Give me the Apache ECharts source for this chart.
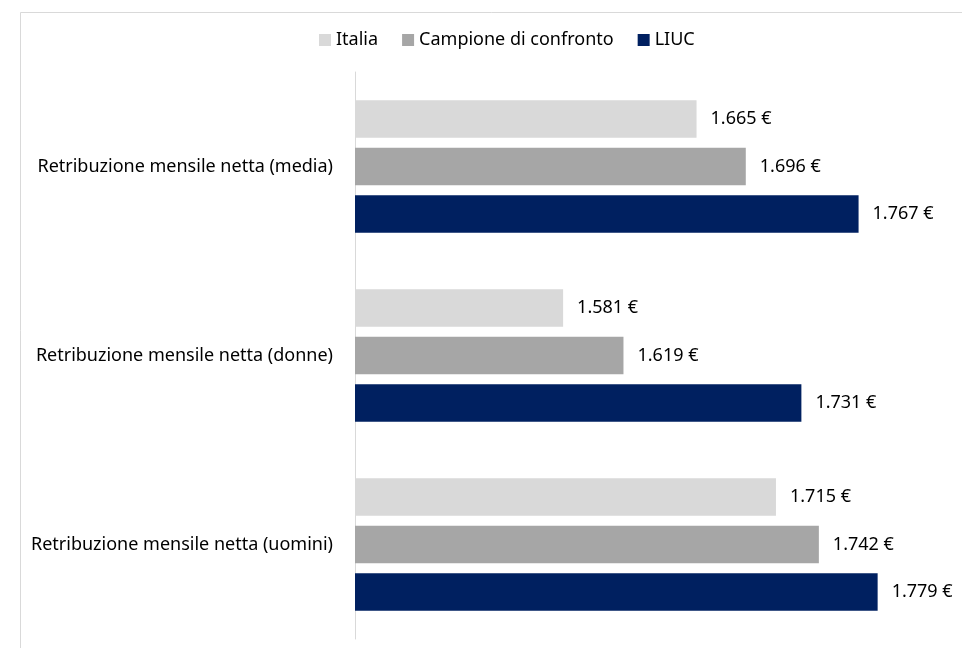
<!DOCTYPE html>
<html>
<head>
<meta charset="utf-8">
<script src="https://cdn.jsdelivr.net/npm/echarts@6/dist/echarts.min.js"></script>
<style>
html,body{margin:0;padding:0;background:#fff;}
#chart{width:962px;height:648px;}
</style>
</head>
<body>
<div id="chart"></div>
<script>
const categories = ['Retribuzione mensile netta (media)', 'Retribuzione mensile netta (donne)', 'Retribuzione mensile netta (uomini)'];
const seriesNames = ['Italia', 'Campione di confronto', 'LIUC'];
const italia = [1665, 1581, 1715];
const campione = [1696, 1619, 1742];
const liuc = [1767, 1731, 1779];
const colors = ['#D9D9D9', '#A6A6A6', '#002060'];
const seriesData = [italia, campione, liuc];

const FONT = 'Noto Sans';
const fmt = v => {
  const s = String(Math.round(v));
  return s.length > 3 ? s.slice(0, s.length - 3) + '.' + s.slice(-3) + ' €' : s + ' €';
};

const chart = echarts.init(document.getElementById('chart'), null, {renderer: 'canvas'});
chart.setOption({
  animation: false,
  backgroundColor: '#fff',
  textStyle: {fontFamily: FONT},
  graphic: [{
    type: 'rect', silent: true,
    shape: {x: 20.5, y: 12.5, width: 1000, height: 1000},
    style: {fill: 'none', stroke: '#D9D9D9', lineWidth: 1}
  }],
  legend: {
    top: 26, left: 314,
    itemWidth: 12, itemHeight: 12, itemGap: 24,
    icon: 'rect',
    textStyle: {fontSize: 18, color: '#000', fontFamily: FONT},
    data: seriesNames
  },
  grid: {left: 355, right: 51, top: 72, bottom: 9, containLabel: false},
  xAxis: {
    type: 'value', min: 1450, max: 1800,
    show: false
  },
  yAxis: {
    type: 'category', data: categories, inverse: true,
    axisLine: {lineStyle: {color: '#D9D9D9', width: 1}},
    axisTick: {show: false},
    axisLabel: {fontSize: 18, color: '#000', margin: 22, fontFamily: FONT}
  },
  series: seriesData.map((d, i) => ({
    name: seriesNames[i], type: 'bar', data: d,
    barGap: '27%', barCategoryGap: '30%',
    itemStyle: {color: colors[i]},
    label: {show: true, position: 'right', distance: 14, fontSize: 18, color: '#000', fontFamily: FONT, formatter: p => fmt(p.value)}
  }))
});
</script>
</body>
</html>
